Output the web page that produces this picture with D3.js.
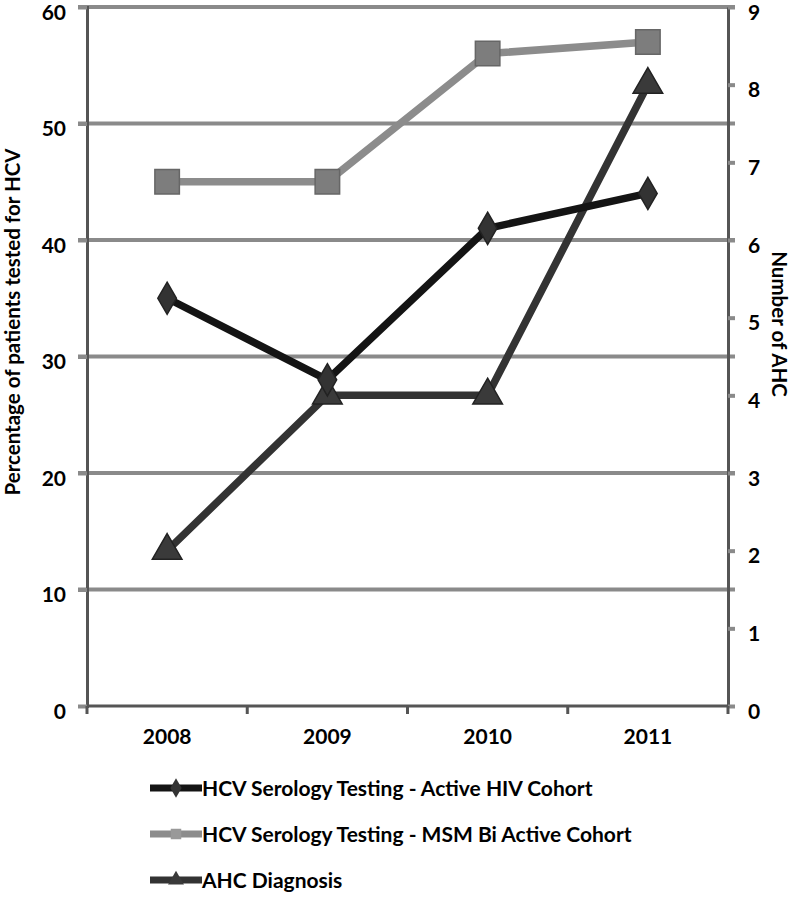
<!DOCTYPE html>
<html><head><meta charset="utf-8">
<script src="https://cdn.jsdelivr.net/npm/d3@7"></script>
<style>body{margin:0;background:#fff}svg{display:block}</style>
</head><body>
<svg id="c" width="792" height="902"></svg>
<script>
const years = ["2008","2009","2010","2011"];
const activeHIV = [35, 28, 41, 44];
const msmBi = [45, 45, 56, 57];
const ahc = [2, 4, 4, 8];
const leftTicks = [0,10,20,30,40,50,60];
const rightTicks = [0,1,2,3,4,5,6,7,8,9];
const seriesNames = ["HCV Serology Testing - Active HIV Cohort","HCV Serology Testing - MSM Bi Active Cohort","AHC Diagnosis"];

const svg = d3.select("#c");
const L = 87, R = 728, T = 7, B = 706;
const font = "Lato, 'Open Sans', sans-serif";
const x = d3.scaleBand().domain(years).range([L, R]);
const yL = d3.scaleLinear().domain([0, 60]).range([B, T]);
const yR = d3.scaleLinear().domain([0, 9]).range([B, T]);

// gridlines
svg.append("g").selectAll("line").data(leftTicks.filter(d=>d>0)).join("line")
  .attr("x1", L-9).attr("x2", R+7).attr("y1", d=>yL(d)).attr("y2", d=>yL(d))
  .attr("stroke", "#8a8a8a").attr("stroke-width", 4);

// left axis
const gL = svg.append("g").attr("transform", `translate(${L},0)`)
  .call(d3.axisLeft(yL).tickValues(leftTicks).tickSize(9).tickPadding(12));
gL.select(".domain").attr("stroke", "#555").attr("stroke-width", 3);
gL.selectAll(".tick line").attr("stroke", "#8a8a8a").attr("stroke-width", 4);
gL.selectAll("text").attr("font-family", font).attr("font-size", 21).attr("font-weight", 700).attr("fill", "#000").attr("dy", "0.58em");

// right axis
const gR = svg.append("g").attr("transform", `translate(${R},0)`)
  .call(d3.axisRight(yR).tickValues(rightTicks).tickSize(7).tickPadding(13).tickSizeOuter(0));
gR.select(".domain").attr("stroke", "#555").attr("stroke-width", 3);
gR.selectAll(".tick line").attr("stroke", "#8a8a8a").attr("stroke-width", 4);
gR.selectAll("text").attr("font-family", font).attr("font-size", 21).attr("font-weight", 700).attr("fill", "#000").attr("dy", "0.58em");

// bottom axis
const gB = svg.append("g").attr("transform", `translate(0,${B})`)
  .call(d3.axisBottom(x).tickSize(0).tickPadding(23));
gB.select(".domain").remove();
gB.append("line").attr("x1", L).attr("x2", R).attr("stroke", "#555").attr("stroke-width", 3);
const bounds = years.map(d=>x(d)).concat([R]);
gB.selectAll(".bt").data(bounds).join("line").attr("class","bt")
  .attr("x1", d=>d).attr("x2", d=>d).attr("y1", 0).attr("y2", 8)
  .attr("stroke", "#555").attr("stroke-width", 3);
gB.selectAll("text").attr("font-family", font).attr("font-size", 21).attr("font-weight", 700).attr("fill", "#000");

// axis titles
svg.append("text").attr("transform", `translate(20,322) rotate(-90)`).attr("text-anchor","middle")
  .attr("font-family", font).attr("font-size", 20.5).attr("font-weight", 700).text("Percentage of patients tested for HCV");
svg.append("text").attr("transform", `translate(772,324) rotate(90)`).attr("text-anchor","middle")
  .attr("font-family", font).attr("font-size", 20.5).attr("font-weight", 700).text("Number of AHC");

const cx = d => x(d) + x.bandwidth()/2;
const series = [
  {vals: msmBi, y: yL, color: "#8c8c8c", sym: d3.symbolSquare, size: 600},
  {vals: ahc, y: yR, color: "#333", sym: d3.symbolTriangle, size: 380},
  {vals: activeHIV, y: yL, color: "#141414", sym: d3.symbolDiamond, size: 300},
];
const markerColor = ["#7d7d7d", "#3a3a3a", "#333"];
series.forEach((s,i) => {
  const line = d3.line().x((d,j)=>cx(years[j])).y(d=>s.y(d));
  svg.append("path").datum(s.vals).attr("d", line).attr("fill","none")
    .attr("stroke", s.color).attr("stroke-width", 7.5).attr("stroke-linejoin","round");
});
series.forEach((s,i) => {
  svg.append("g").selectAll("path").data(s.vals).join("path")
    .attr("transform", (d,j)=>`translate(${cx(years[j])},${s.y(d)})`)
    .attr("d", d3.symbol().type(s.sym).size(s.size))
    .attr("fill", markerColor[i]).attr("stroke", i==0?"#666":"#222").attr("stroke-width", 1.5);
});

// legend
const legColors = ["#141414", "#8c8c8c", "#333"];
const legSyms = [d3.symbolDiamond, d3.symbolSquare, d3.symbolTriangle];
const legFill = ["#333", "#999", "#3a3a3a"];
const legY = [788, 834, 880];
seriesNames.forEach((n,i) => {
  const g = svg.append("g").attr("transform", `translate(0,${legY[i]})`);
  g.append("line").attr("x1", 150).attr("x2", 202).attr("stroke", legColors[i]).attr("stroke-width", 7);
  g.append("path").attr("transform","translate(176,0)").attr("d", d3.symbol().type(legSyms[i]).size(110)).attr("fill", legFill[i]);
  g.append("text").attr("x", 202).attr("y", 8).attr("font-family", font).attr("font-size", 21)
    .attr("font-weight", 700).attr("fill","#000").text(n);
});
</script>
</body></html>
